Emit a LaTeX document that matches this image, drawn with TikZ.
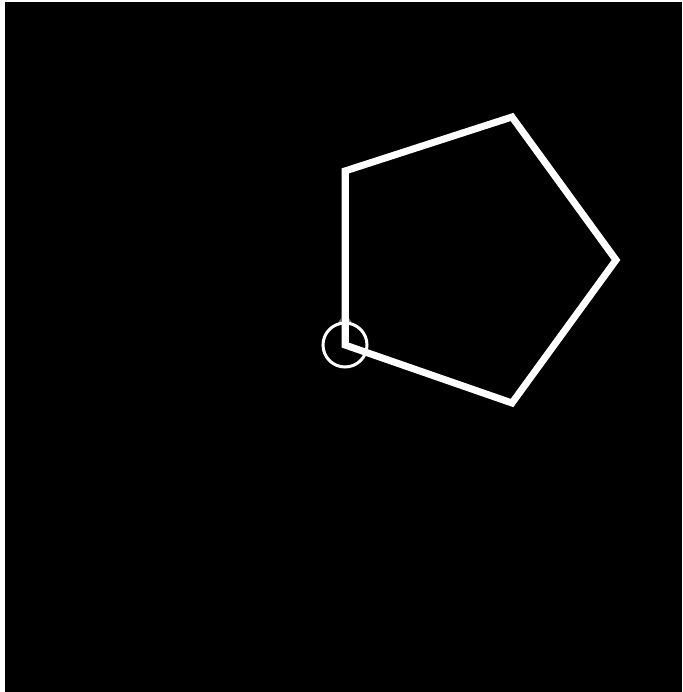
\documentclass[tikz,border=0pt]{standalone}
\begin{document}
\begin{tikzpicture}[x=1pt,y=-1pt,
  edge/.style={draw=white,line width=7pt,line join=miter},
  marker/.style={draw=white,line width=3pt}]
\useasboundingbox (0,0) rectangle (682,692);
\fill[white] (0,0) rectangle (682,692);
\fill[black] (5,2) rectangle (682,692);
\coordinate (p0) at (345,345);
\coordinate (p1) at (345,171);
\coordinate (p2) at (512,117);
\coordinate (p3) at (616,260);
\coordinate (p4) at (512,403);
\draw[edge] (p0) -- (p1) -- (p2) -- (p3) -- (p4) -- cycle;
\fill[white!45!black] (337,324) -- (345,313) -- (353,324) -- cycle;
\draw[edge] (p0) -- (p1);
\draw[marker] (p0) circle (22);
\end{tikzpicture}
\end{document}
